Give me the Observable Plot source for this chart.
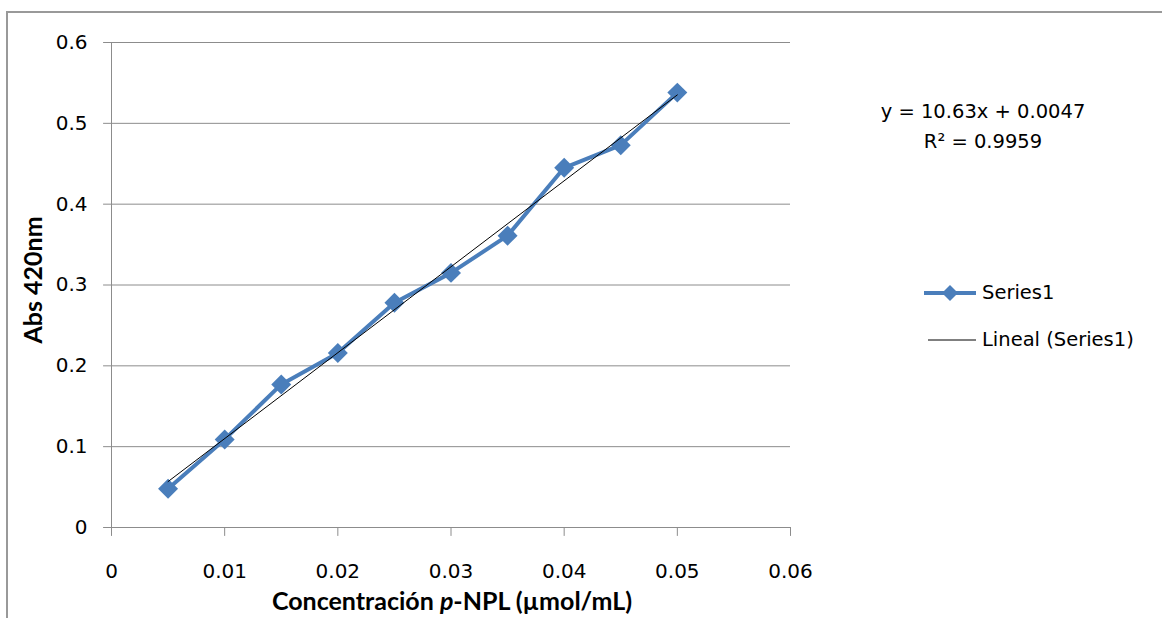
<!DOCTYPE html>
<html>
<head>
<meta charset="utf-8">
<script src="https://cdn.jsdelivr.net/npm/d3@7"></script>
<script src="https://cdn.jsdelivr.net/npm/@observablehq/plot@0.6"></script>
<style>
  html, body { margin: 0; padding: 0; background: #fff; }
  #wrap { position: relative; width: 1162px; height: 618px; overflow: hidden; font-family: "DejaVu Sans", sans-serif; color: #000; }
  #frame { position: absolute; left: 6px; top: 11px; width: 1200px; height: 700px; border-left: 2px solid #999; border-top: 2px solid #999; }
  .ann { position: absolute; font-size: 19.5px; white-space: nowrap; }
  #chart { position: absolute; left: 0; top: 0; }
</style>
</head>
<body>
<div id="wrap">
  <div id="frame"></div>
  <div id="chart"></div>
  <div class="ann" style="left:873px; width:220px; top:97px; text-align:center; line-height:30px;">y = 10.63x + 0.0047<br>R² = 0.9959</div>
  <svg class="ann" style="left:920px; top:280px;" width="60" height="70">
    <line x1="4" x2="56" y1="13" y2="13" stroke="#4a7ebb" stroke-width="4"/>
    <path d="M30,5 L38,13 L30,21 L22,13 Z" fill="#4a7ebb"/>
    <line x1="8" x2="56" y1="60" y2="60" stroke="#000" stroke-width="1"/>
  </svg>
  <div class="ann" style="left:982px; top:281px;">Series1</div>
  <div class="ann" style="left:982px; top:328px;">Lineal (Series1)</div>
</div>
<script>
const concentration = [0.005, 0.01, 0.015, 0.02, 0.025, 0.03, 0.035, 0.04, 0.045, 0.05];
const absorbance = [0.048, 0.109, 0.177, 0.216, 0.278, 0.315, 0.361, 0.445, 0.473, 0.538];
const xTicks = [0, 0.01, 0.02, 0.03, 0.04, 0.05, 0.06];
const yTicks = [0, 0.1, 0.2, 0.3, 0.4, 0.5, 0.6];

const data = concentration.map((c, i) => ({x: c, y: absorbance[i]}));
const fx = d => d === 0 ? "0" : String(+d.toFixed(2));
const fy = d => d === 0 ? "0" : String(+d.toFixed(1));

const chart = Plot.plot({
  width: 1162,
  height: 618,
  marginLeft: 111,
  marginRight: 372,
  marginTop: 42,
  marginBottom: 91,
  style: {fontFamily: "'DejaVu Sans', sans-serif", fontSize: "20px", color: "#000", background: "transparent"},
  x: {domain: [0, 0.06], ticks: xTicks, tickFormat: fx, label: null},
  y: {domain: [0, 0.6], ticks: yTicks, tickFormat: fy, label: null},
  marks: [
    Plot.ruleY(yTicks, {x1: -0.0007, x2: 0.06, stroke: "#8c8c8c", strokeWidth: 1}),
    Plot.ruleX(xTicks, {y1: 0, y2: -0.011, stroke: "#8c8c8c", strokeWidth: 1}),
    Plot.ruleX([0], {y1: 0, y2: 0.6, stroke: "#8c8c8c", strokeWidth: 1}),
    Plot.axisX({ticks: xTicks, tickSize: 0, tickPadding: 36, tickFormat: fx, fill: "#000", fontSize: 20, label: null}),
    Plot.axisY({ticks: yTicks, tickSize: 0, tickPadding: 24, tickFormat: fy, fill: "#000", fontSize: 20, label: null}),
    Plot.line(data, {x: "x", y: "y", stroke: "#4a7ebb", strokeWidth: 4}),
    Plot.dot(data, {x: "x", y: "y", symbol: "diamond2", r: 9, fill: "#4a7ebb", stroke: "none"}),
    Plot.linearRegressionY(data, {x: "x", y: "y", stroke: "#000", strokeWidth: 1, ci: 0})
  ]
});

const svg = d3.select(chart);
svg.append("text")
  .attr("transform", "translate(42,280) rotate(-90)")
  .attr("text-anchor", "middle")
  .attr("font-family", "Lato, sans-serif")
  .attr("font-size", 25).attr("font-weight", "bold").attr("fill", "#000")
  .text("Abs 420nm");
const xl = svg.append("text")
  .attr("x", 452).attr("y", 610)
  .attr("text-anchor", "middle")
  .attr("font-family", "Lato, sans-serif")
  .attr("font-size", 25).attr("font-weight", "bold").attr("fill", "#000");
xl.append("tspan").text("Concentración ");
xl.append("tspan").attr("font-style", "italic").text("p");
xl.append("tspan").text("-NPL (µmol/mL)");

document.getElementById("chart").appendChild(chart);
</script>
</body>
</html>
